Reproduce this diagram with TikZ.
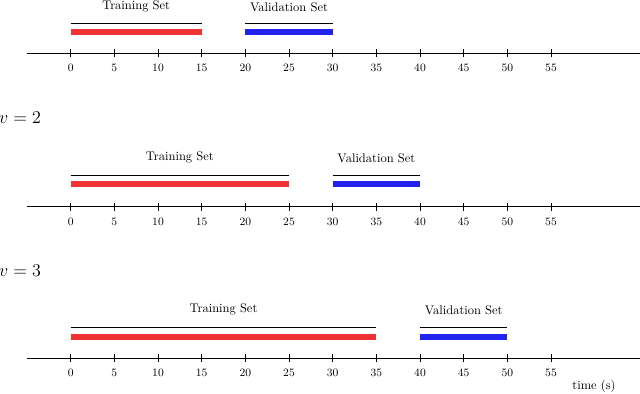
\documentclass[tikz,border=0pt]{standalone}
\begin{document}
\begin{tikzpicture}[x=0.8pt,y=-0.8pt,
  axisline/.style={line width=0.9pt,black},
  tickmark/.style={line width=0.7pt,black},
  setline/.style={line width=1.2pt,black},
  trainbar/.style={line width=4.6pt,draw={rgb,255:red,240;green,50;blue,50}},
  valbar/.style={line width=4.6pt,draw={rgb,255:red,35;green,35;blue,240}},
  ticklabel/.style={font=\small,inner sep=0pt},
  setlabel/.style={anchor=south,font=\normalsize}]
\useasboundingbox (0,0) rectangle (640,393);
\def\u{8.733}
\def\ox{70.7}
% rows: axis y, black line y, bar y, train end, val start, val end, label offset, set-label gap
\foreach \r/\ay/\ly/\by/\te/\vs/\ve/\lab/\gap in {1/53.3/23.3/32/15/20/30/14.3/7.2, 2/206.7/175.7/184.3/25/30/40/15.5/8.5, 3/358.3/327.7/336.7/35/40/50/14.4/8.5}{
  \coordinate (axL\r) at (27,\ay);
  \coordinate (axR\r) at (640,\ay);
  \draw[axisline] (axL\r) -- (axR\r);
  \foreach \t in {0,5,...,55}{
    \coordinate (tk\r\t) at ({\ox+\t*\u},\ay);
    \draw[tickmark] ([yshift=3.2pt]tk\r\t) -- ([yshift=-3.2pt]tk\r\t);
    \node[ticklabel] (tl\r\t) at ({\ox+\t*\u},{\ay+\lab}) {\t};
  }
  \coordinate (ts\r) at ({\ox},\ly);
  \coordinate (te\r) at ({\ox+\te*\u},\ly);
  \coordinate (vs\r) at ({\ox+\vs*\u},\ly);
  \coordinate (ve\r) at ({\ox+\ve*\u},\ly);
  \coordinate (tbs\r) at ({\ox},\by);
  \coordinate (tbe\r) at ({\ox+\te*\u},\by);
  \coordinate (vbs\r) at ({\ox+\vs*\u},\by);
  \coordinate (vbe\r) at ({\ox+\ve*\u},\by);
  \draw[setline] (ts\r) -- (te\r);
  \draw[setline] (vs\r) -- (ve\r);
  \draw[trainbar] (tbs\r) -- (tbe\r);
  \draw[valbar] (vbs\r) -- (vbe\r);
  \node[setlabel] (tn\r) at ({\ox+\te*\u/2},{\ly-\gap}) {Training Set};
  \node[setlabel] (vn\r) at ({\ox+(\vs+\ve)*\u/2},{\ly-\gap}) {Validation Set};
}
\node[anchor=west,inner sep=0pt,font=\Large] (v2) at (-1,118) {$v=2$};
\node[anchor=west,inner sep=0pt,font=\Large] (v3) at (-1,271) {$v=3$};
\node[inner sep=0pt] (time) at (594,386) {time (s)};
\end{tikzpicture}
\end{document}
